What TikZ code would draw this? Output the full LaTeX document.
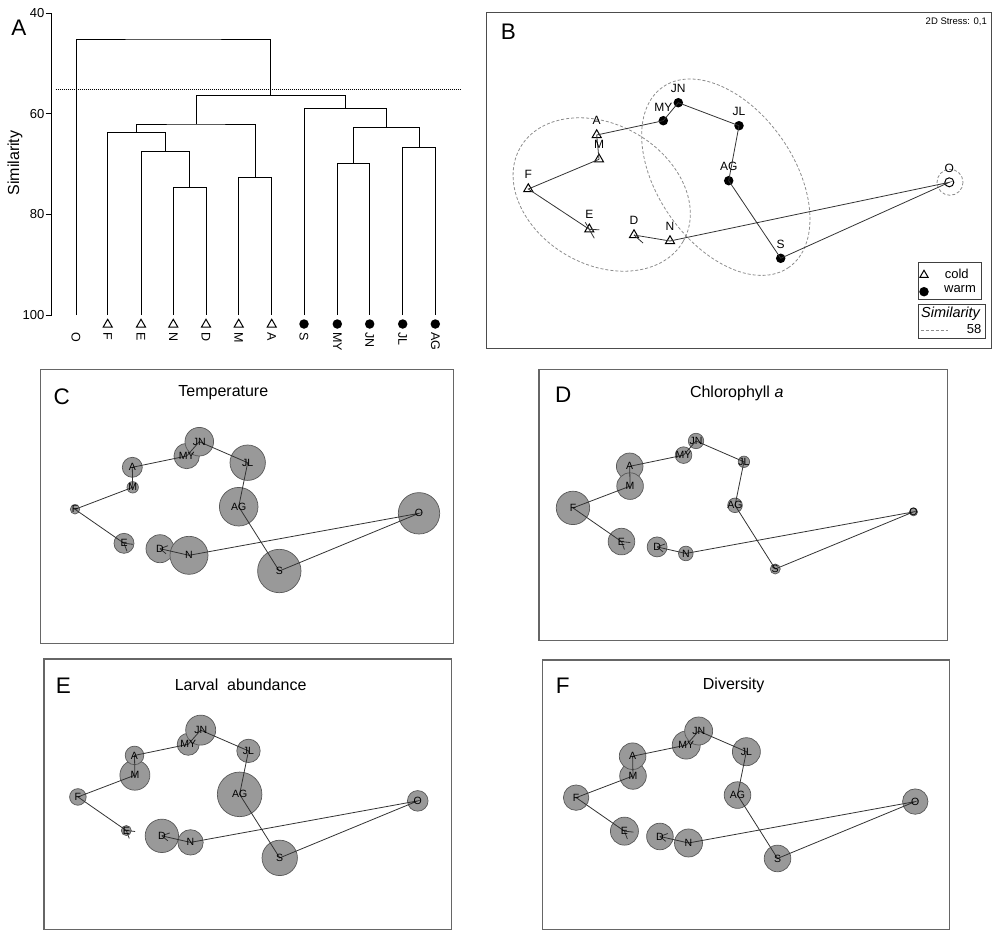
\documentclass[tikz,border=0pt]{standalone}
\usepackage{fontspec}
\setmainfont{Liberation Sans}
\usetikzlibrary{shapes.geometric,positioning}

\tikzset{
  panelframe/.style={draw=black!60, line width=1.2pt},
  letter/.style={font=\fontsize{22.5}{24}\selectfont, inner sep=0pt},
  paneltitle/.style={font=\fontsize{16}{18}\selectfont, inner sep=0pt},
  tree/.style={draw=black, line width=0.9pt},
  ticklab/.style={font=\fontsize{13}{14}\selectfont, anchor=east, inner sep=0pt},
  leaflab/.style={font=\fontsize{12.5}{14}\selectfont, rotate=-90, anchor=west, inner sep=0pt},
  coldmark/.style={regular polygon, regular polygon sides=3, draw=black, line width=1pt, minimum size=10.5pt, inner sep=0pt},
  warmmark/.style={circle, fill=black, minimum size=9.5pt, inner sep=0pt},
  blab/.style={font=\fontsize{12}{14}\selectfont, inner sep=1pt},
  keylab/.style={font=\fontsize{13}{14}\selectfont, inner sep=0pt},
  traj/.style={draw=black!80, line width=0.8pt},
  group/.style={draw=black!45, dash pattern=on 3pt off 2pt, line width=0.8pt},
  bubble/.style={circle, draw=black!65, fill=black!40, line width=0.7pt, inner sep=0pt},
  mlab/.style={font=\fontsize{10.5}{12}\selectfont, inner sep=0pt},
}

% MDS positions of the months, relative to the top left corner of a panel
\newcommand{\monthsites}{%
  \coordinate (F) at (34.3,139.6);
  \coordinate (M) at (92,117.6);
  \coordinate (A) at (91.6,97.6);
  \coordinate (MY) at (146,86.3);
  \coordinate (JN) at (158.6,72);
  \coordinate (JL) at (207,93);
  \coordinate (AG) at (198,137);
  \coordinate (S) at (238.6,201.3);
  \coordinate (O) at (378.3,143.6);
  \coordinate (N) at (148.3,185.6);
  \coordinate (D) at (119.3,179);
  \coordinate (E) at (83.3,173.6);
}

% #1 prefix of the node names, #2 month/radius list
\newcommand{\bubblepanel}[2]{%
  \draw[panelframe] (0,0) rectangle (412.7,273.7);
  \monthsites
  \foreach \m/\r in {#2}
    \node[bubble, minimum size=2*\r pt] (#1\m) at (\m) {};
  \draw[traj] (#1E.center) -- (#1F.center) -- (#1M.center) -- (#1A.center) -- (#1MY.center) -- (#1JN.center)
    -- (#1JL.center) -- (#1AG.center) -- (#1S.center) -- (#1O.center) -- (#1N.center) -- (#1D.center);
  \draw[traj] (#1E.center) -- ++(9,1) (#1E.center) -- ++(3,8);
  \draw[traj] (#1D.center) -- ++(8,-3) (#1D.center) -- ++(6,5);
  \foreach \m in {F,M,A,MY,JN,JL,AG,S,O,N,D,E}
    \node[mlab] at (\m) {\m};
}

\begin{document}
\begin{tikzpicture}[x=1pt,y=-1pt]
  \useasboundingbox (0,0) rectangle (998,950);

  % A: dendrogram
  \node[letter] at (19,28) {A};
  \node[rotate=90, font=\fontsize{16}{18}\selectfont] at (15,163) {Similarity};
  \draw[tree] (51.7,13.3) -- (51.7,315);
  \foreach \v/\y in {40/13.3, 60/113.7, 80/214.3, 100/315} {
    \draw[tree] (45.7,\y) -- (51.7,\y);
    \node[ticklab] at (44.5,\y) {\v};
  }
  \foreach \n/\x in {O/76, F/107.7, E/141, N/173.3, D/206, M/238.7, A/271.7, S/304, MY/337.3, JN/369.7, JL/402.7, AG/435.3} {
    \coordinate (l\n) at (\x,315);
    \node[leaflab] at (\x,332) {\n};
  }
  \foreach \n/\x in {F/107.7, E/141, N/173.3, D/206, M/238.7, A/271.7}
    \node[coldmark] (t\n) at (\x,324.5) {};
  \foreach \n/\x in {S/304, MY/337.3, JN/369.7, JL/402.7, AG/435.3}
    \node[warmmark] (t\n) at (\x,324) {};
  \coordinate (mND) at (189.7,187.7);
  \coordinate (mEND) at (165.4,151.7);
  \coordinate (mFEND) at (136.7,132.7);
  \coordinate (mMA) at (255.2,177.7);
  \coordinate (mCold) at (196,124);
  \coordinate (mMYJN) at (353.5,163.3);
  \coordinate (mJLAG) at (419,147.7);
  \coordinate (mSum) at (386.3,127.3);
  \coordinate (mWarm) at (345.2,108.3);
  \coordinate (mBoth) at (270.6,95.7);
  \coordinate (mAll) at (173.3,39);
  \draw[tree] (lN) |- (mND) -| (lD);
  \draw[tree] (lE) |- (mEND) -| (mND);
  \draw[tree] (lF) |- (mFEND) -| (mEND);
  \draw[tree] (lM) |- (mMA) -| (lA);
  \draw[tree] (mFEND) |- (mCold) -| (mMA);
  \draw[tree] (lMY) |- (mMYJN) -| (lJN);
  \draw[tree] (lJL) |- (mJLAG) -| (lAG);
  \draw[tree] (mMYJN) |- (mSum) -| (mJLAG);
  \draw[tree] (lS) |- (mWarm) -| (mSum);
  \draw[tree] (mCold) |- (mBoth) -| (mWarm);
  \draw[tree] (lO) |- (mAll) -| (mBoth);
  \draw[dash pattern=on 1pt off 1pt, line width=0.6pt] (55.7,89.3) -- (460,89.3);

  % B: MDS ordination
  \draw[panelframe, draw=black!70] (486.7,12.3) rectangle (991.7,348.3);
  \node[letter] at (508.3,31.7) {B};
  \node[font=\fontsize{9.5}{10}\selectfont, anchor=east, inner sep=0pt] at (987,21.7) {2D Stress: 0,1};
  \draw[group, rotate around={-30:(601.7,194.5)}] (601.7,194.5) ellipse [x radius=94, y radius=70];
  \draw[group, rotate around={-55:(725.8,177.2)}] (725.8,177.2) ellipse [x radius=110, y radius=68];
  \draw[group] (950,182.3) circle [radius=13];
  \node[coldmark] (bF) at (528.3,189) {};
  \node[coldmark] (bM) at (599,159.3) {};
  \node[coldmark] (bA) at (596.7,135) {};
  \node[coldmark] (bE) at (589.3,229.3) {};
  \node[coldmark] (bD) at (634,235) {};
  \node[coldmark] (bN) at (670,241) {};
  \node[warmmark] (bMY) at (663.3,120.7) {};
  \node[warmmark] (bJN) at (678.3,102.7) {};
  \node[warmmark] (bJL) at (739,125.7) {};
  \node[warmmark] (bAG) at (728.7,180.7) {};
  \node[warmmark] (bS) at (780.7,258.3) {};
  \node[circle, draw=black, line width=1pt, minimum size=9pt, inner sep=0pt] (bO) at (949.3,182.3) {};
  \draw[traj] (bE.center) -- (bF.center) -- (bM.center) -- (bA.center) -- (bMY.center) -- (bJN.center)
    -- (bJL.center) -- (bAG.center) -- (bS.center) -- (bO.center) -- (bN.center) -- (bD.center);
  \draw[traj] (bE.center) -- ++(10,0.5) (bE.center) ++(-4,-7) -- ++(9,16);
  \draw[traj] (bD.center) -- ++(9,8);
  \foreach \m in {F,M,A,E,D,N,MY,JN,JL,AG,S,O}
    \node[blab, above=3.5pt of b\m] {\m};
  % legend
  \draw[draw=black!75, line width=1pt] (918.3,262.7) rectangle (981.7,299.3);
  \node[coldmark, minimum size=9.5pt] (kCold) at (924,275) {};
  \node[keylab] at (956.7,274) {cold};
  \node[warmmark] (kWarm) at (924,291.7) {};
  \node[keylab] at (960,289.3) {warm};
  \draw[draw=black!75, line width=1pt] (918.3,304.3) rectangle (985,338.3);
  \node[font=\fontsize{14.5}{16}\selectfont\itshape, inner sep=0pt] at (950.5,313.3) {Similarity};
  \draw[group] (920.7,330) -- (948.3,330);
  \node[keylab] at (974,329) {58};

  % C: temperature
  \begin{scope}[shift={(40.7,369.7)}]
    \bubblepanel{c}{E/10, F/4.7, M/5.7, A/10, MY/12.7, JN/14.3, JL/17.7, AG/19.3, S/21.7, O/20.7, D/14, N/19}
    \node[letter] at (21,27) {C};
    \node[paneltitle] at (182.6,22.6) {Temperature};
  \end{scope}

  % D: chlorophyll a
  \begin{scope}[shift={(539,369.7)}, scale=0.99]
    \bubblepanel{d}{E/13.3, F/16.7, A/13.3, M/13.3, MY/8.3, JN/7.7, JL/5.7, AG/7.3, S/5, O/4, D/10, N/7.3}
    \node[letter] at (24.5,25.5) {D};
    \node[paneltitle] at (199.7,23.8) {Chlorophyll \textit{a}};
  \end{scope}

  % E: larval abundance
  \begin{scope}[shift={(44,659)}, scale=0.988]
    \bubblepanel{e}{E/5, F/8.3, M/15, A/9.3, MY/11, JN/15, JL/11.7, AG/22.3, S/17.7, O/10.3, D/16.7, N/12.7}
    \node[letter] at (19.5,27.3) {E};
    \node[paneltitle] at (199,26.3) {Larval\ \ abundance};
  \end{scope}

  % F: diversity
  \begin{scope}[shift={(542.3,660)}, scale=0.986]
    \bubblepanel{f}{E/14, F/12.7, M/13.3, A/13.3, MY/14, JN/14, JL/14, AG/13.3, S/13.3, O/12.7, D/13.3, N/14}
    \node[letter] at (20.7,26.4) {F};
    \node[paneltitle] at (194,25.3) {Diversity};
  \end{scope}
\end{tikzpicture}
\end{document}
